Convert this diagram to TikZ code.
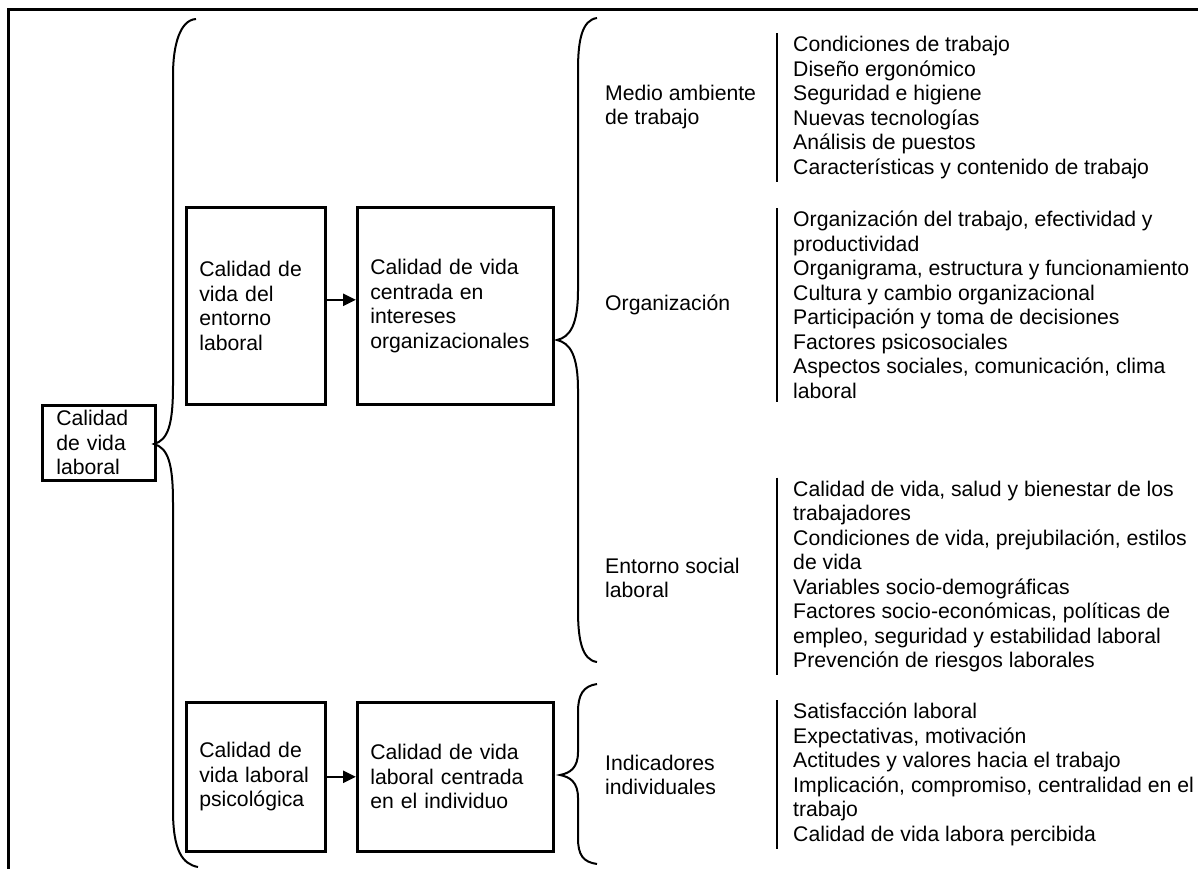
\documentclass[tikz,border=0pt]{standalone}
\usepackage{fontspec}
\setmainfont{Liberation Sans}
\usetikzlibrary{arrows.meta}
\begin{document}
\begin{tikzpicture}[x=1pt,y=-1pt,
  every node/.style={font=\fontsize{21.2}{24.5}\selectfont},
  box/.style={draw,line width=2.6pt,align=left,inner xsep=13pt,anchor=north west},
  lbl/.style={anchor=west,align=left,inner sep=0pt},
  lst/.style={anchor=west,align=left,inner xsep=0pt,inner ysep=3pt},
  bar/.style={line width=2.6pt},
  brc/.style={line width=2pt},
  conn/.style={line width=2.4pt,-{Triangle[length=13pt,width=12pt]}},
  frame/.style={line width=3pt}]
\useasboundingbox (0,0) rectangle (1198,868);
% frame
\draw[frame] (8,870) -- (8,9) -- (1200,9);
% boxes
\node[box,minimum width=113pt,minimum height=75pt,text width=85pt,inner xsep=14pt] (A) at (41,404) {Calidad\\de vida\\laboral};
\node[box,minimum width=139pt,minimum height=197pt,text width=113pt] (B) at (185,206) {Calidad de\\vida del\\entorno\\laboral};
\node[box,minimum width=196pt,minimum height=197pt,text width=170pt] (C) at (356,206) {Calidad de vida\\centrada en\\intereses\\organizacionales};
\node[box,minimum width=139pt,minimum height=149pt,text width=113pt] (D) at (185,701) {Calidad de\\vida laboral\\psicológica};
\node[box,minimum width=196pt,minimum height=149pt,text width=170pt] (E) at (356,701) {Calidad de vida\\laboral centrada\\en el individuo};
% arrows
\draw[conn] ([yshift=6pt]B.east) -- ([yshift=6pt]C.west);
\draw[conn] (D.east) -- (E.west);
% braces
\draw[brc] (196,19) .. controls (180,20) and (173,45) .. (173,75) -- (173,385)
  .. controls (173,425) and (168,440) .. (154,444)
  .. controls (168,448) and (173,463) .. (173,503) -- (173,810)
  .. controls (173,850) and (182,864) .. (198,867);
\draw[brc] (597,18) .. controls (582,20) and (578,40) .. (578,70) -- (578,290)
  .. controls (578,325) and (570,337) .. (557,340)
  .. controls (570,343) and (578,355) .. (578,390) -- (578,610)
  .. controls (578,640) and (582,660) .. (597,662);
\draw[brc] (597,684) .. controls (583,686) and (578,695) .. (578,712) -- (578,752)
  .. controls (578,768) and (570,773) .. (560,775)
  .. controls (570,777) and (578,782) .. (578,798) -- (578,838)
  .. controls (578,855) and (583,862) .. (597,864);
% labels
\node[lbl] (M) at (605,107) {Medio ambiente\\de trabajo};
\node[lbl] (O) at (605,305) {Organización};
\node[lbl] (S) at (605,578) {Entorno social\\laboral};
\node[lbl] (I) at (605,775) {Indicadores\\individuales};
% lists
\node[lst] (L1) at (793,107.5) {Condiciones de trabajo\\Diseño ergonómico\\Seguridad e higiene\\Nuevas tecnologías\\Análisis de puestos\\Características y contenido de trabajo};
\node[lst] (L2) at (793,305) {Organización del trabajo, efectividad y\\productividad\\Organigrama, estructura y funcionamiento\\Cultura y cambio organizacional\\Participación y toma de decisiones\\Factores psicosociales\\Aspectos sociales, comunicación, clima\\laboral};
\node[lst] (L3) at (793,576.5) {Calidad de vida, salud y bienestar de los\\trabajadores\\Condiciones de vida, prejubilación, estilos\\de vida\\Variables socio-demográficas\\Factores socio-económicas, políticas de\\empleo, seguridad y estabilidad laboral\\Prevención de riesgos laborales};
\node[lst] (L4) at (793,774.5) {Satisfacción laboral\\Expectativas, motivación\\Actitudes y valores hacia el trabajo\\Implicación, compromiso, centralidad en el\\trabajo\\Calidad de vida labora percibida};
% bars
\foreach \l in {L1,L2,L3,L4}
  \draw[bar] ([xshift=-16pt]\l.north west) -- ([xshift=-16pt]\l.south west);
\end{tikzpicture}
\end{document}
